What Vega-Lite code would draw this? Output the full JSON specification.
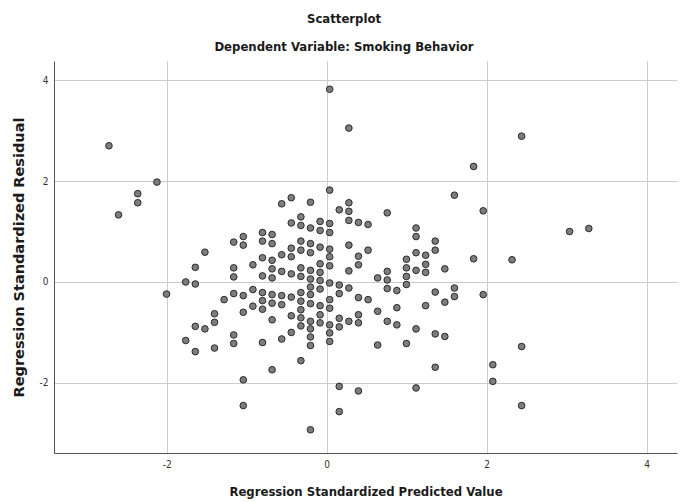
{
  "$schema": "https://vega.github.io/schema/vega-lite/v6.json",
  "autosize": {"type": "none"},
  "padding": {"left": 54, "top": 61, "right": 6, "bottom": 49},
  "width": 623,
  "height": 392,
  "background": "white",
  "title": {
    "text": "Scatterplot",
    "subtitle": "Dependent Variable: Smoking Behavior",
    "anchor": "middle",
    "frame": "bounds",
    "font": "Liberation Sans Narrow, DejaVu Sans Condensed, sans-serif",
    "fontSize": 13,
    "fontWeight": "bold",
    "color": "#1a1a1a",
    "subtitleFont": "Liberation Sans Narrow, DejaVu Sans Condensed, sans-serif",
    "subtitleFontSize": 13,
    "subtitleFontWeight": "bold",
    "subtitleColor": "#1a1a1a",
    "subtitlePadding": 15,
    "offset": 7
  },
  "data": {"values": [
    {"x": -2.723, "y": 2.70},
    {"x": -2.603, "y": 1.33},
    {"x": -2.363, "y": 1.75}, {"x": -2.363, "y": 1.57},
    {"x": -2.123, "y": 1.98},
    {"x": -2.003, "y": -0.24},
    {"x": -1.763, "y": 0.00}, {"x": -1.763, "y": -1.16},
    {"x": -1.643, "y": 0.29}, {"x": -1.643, "y": -0.04}, {"x": -1.643, "y": -0.88}, {"x": -1.643, "y": -1.38},
    {"x": -1.523, "y": 0.59}, {"x": -1.523, "y": -0.93},
    {"x": -1.403, "y": -0.63}, {"x": -1.403, "y": -0.80}, {"x": -1.403, "y": -1.31},
    {"x": -1.283, "y": -0.35},
    {"x": -1.163, "y": 0.79}, {"x": -1.163, "y": 0.28}, {"x": -1.163, "y": 0.10}, {"x": -1.163, "y": -0.23}, {"x": -1.163, "y": -1.05}, {"x": -1.163, "y": -1.22},
    {"x": -1.043, "y": 0.90}, {"x": -1.043, "y": 0.73}, {"x": -1.043, "y": -0.27}, {"x": -1.043, "y": -0.60}, {"x": -1.043, "y": -1.94}, {"x": -1.043, "y": -2.45},
    {"x": -0.923, "y": 0.34}, {"x": -0.923, "y": -0.15}, {"x": -0.923, "y": -0.48},
    {"x": -0.803, "y": 0.98}, {"x": -0.803, "y": 0.81}, {"x": -0.803, "y": 0.48}, {"x": -0.803, "y": 0.12}, {"x": -0.803, "y": -0.21}, {"x": -0.803, "y": -0.37}, {"x": -0.803, "y": -0.54}, {"x": -0.803, "y": -1.20},
    {"x": -0.683, "y": 0.94}, {"x": -0.683, "y": 0.76}, {"x": -0.683, "y": 0.43}, {"x": -0.683, "y": 0.26}, {"x": -0.683, "y": 0.08}, {"x": -0.683, "y": -0.25}, {"x": -0.683, "y": -0.42}, {"x": -0.683, "y": -0.75}, {"x": -0.683, "y": -1.74},
    {"x": -0.563, "y": 1.55}, {"x": -0.563, "y": 0.54}, {"x": -0.563, "y": 0.21}, {"x": -0.563, "y": -0.27}, {"x": -0.563, "y": -0.45}, {"x": -0.563, "y": -1.13},
    {"x": -0.443, "y": 1.67}, {"x": -0.443, "y": 1.17}, {"x": -0.443, "y": 0.67}, {"x": -0.443, "y": 0.50}, {"x": -0.443, "y": 0.16}, {"x": -0.443, "y": -0.30}, {"x": -0.443, "y": -0.67}, {"x": -0.443, "y": -1.00},
    {"x": -0.323, "y": 1.29}, {"x": -0.323, "y": 1.12}, {"x": -0.323, "y": 0.81}, {"x": -0.323, "y": 0.63}, {"x": -0.323, "y": 0.28}, {"x": -0.323, "y": 0.11}, {"x": -0.323, "y": -0.21}, {"x": -0.323, "y": -0.38}, {"x": -0.323, "y": -0.55}, {"x": -0.323, "y": -0.71}, {"x": -0.323, "y": -0.87}, {"x": -0.323, "y": -1.56},
    {"x": -0.203, "y": 1.58}, {"x": -0.203, "y": 1.07}, {"x": -0.203, "y": 0.76}, {"x": -0.203, "y": 0.58}, {"x": -0.203, "y": 0.23}, {"x": -0.203, "y": 0.06}, {"x": -0.203, "y": -0.10}, {"x": -0.203, "y": -0.25}, {"x": -0.203, "y": -0.43}, {"x": -0.203, "y": -0.78}, {"x": -0.203, "y": -0.93}, {"x": -0.203, "y": -1.09}, {"x": -0.203, "y": -1.26}, {"x": -0.203, "y": -2.93},
    {"x": -0.083, "y": 1.20}, {"x": -0.083, "y": 1.02}, {"x": -0.083, "y": 0.69}, {"x": -0.083, "y": 0.36}, {"x": -0.083, "y": 0.19}, {"x": -0.083, "y": 0.03}, {"x": -0.083, "y": -0.14}, {"x": -0.083, "y": -0.47}, {"x": -0.083, "y": -0.65}, {"x": -0.083, "y": -0.81},
    {"x": 0.037, "y": 3.82}, {"x": 0.037, "y": 1.82}, {"x": 0.037, "y": 1.16}, {"x": 0.037, "y": 0.98}, {"x": 0.037, "y": 0.65}, {"x": 0.037, "y": 0.50}, {"x": 0.037, "y": 0.32}, {"x": 0.037, "y": -0.02}, {"x": 0.037, "y": -0.35}, {"x": 0.037, "y": -0.52}, {"x": 0.037, "y": -0.85}, {"x": 0.037, "y": -1.01}, {"x": 0.037, "y": -1.18},
    {"x": 0.157, "y": 1.43}, {"x": 0.157, "y": -0.06}, {"x": 0.157, "y": -0.23}, {"x": 0.157, "y": -0.72}, {"x": 0.157, "y": -0.89}, {"x": 0.157, "y": -2.07}, {"x": 0.157, "y": -2.57},
    {"x": 0.277, "y": 3.05}, {"x": 0.277, "y": 1.57}, {"x": 0.277, "y": 1.40}, {"x": 0.277, "y": 1.22}, {"x": 0.277, "y": 0.73}, {"x": 0.277, "y": 0.22}, {"x": 0.277, "y": -0.12}, {"x": 0.277, "y": -0.78},
    {"x": 0.397, "y": 1.18}, {"x": 0.397, "y": 0.51}, {"x": 0.397, "y": 0.34}, {"x": 0.397, "y": -0.31}, {"x": 0.397, "y": -0.65}, {"x": 0.397, "y": -0.81}, {"x": 0.397, "y": -2.16},
    {"x": 0.517, "y": 1.14}, {"x": 0.517, "y": 0.63}, {"x": 0.517, "y": -0.35},
    {"x": 0.637, "y": 0.08}, {"x": 0.637, "y": -0.58}, {"x": 0.637, "y": -1.25},
    {"x": 0.757, "y": 1.37}, {"x": 0.757, "y": 0.21}, {"x": 0.757, "y": 0.04}, {"x": 0.757, "y": -0.13}, {"x": 0.757, "y": -0.78},
    {"x": 0.877, "y": -0.17}, {"x": 0.877, "y": -0.51}, {"x": 0.877, "y": -0.85},
    {"x": 0.997, "y": 0.45}, {"x": 0.997, "y": 0.28}, {"x": 0.997, "y": 0.11}, {"x": 0.997, "y": -0.05}, {"x": 0.997, "y": -1.22},
    {"x": 1.117, "y": 1.07}, {"x": 1.117, "y": 0.90}, {"x": 1.117, "y": 0.58}, {"x": 1.117, "y": 0.23}, {"x": 1.117, "y": -0.93}, {"x": 1.117, "y": -2.10},
    {"x": 1.237, "y": 0.53}, {"x": 1.237, "y": 0.35}, {"x": 1.237, "y": 0.19}, {"x": 1.237, "y": -0.47},
    {"x": 1.357, "y": 0.81}, {"x": 1.357, "y": 0.63}, {"x": 1.357, "y": -0.20}, {"x": 1.357, "y": -1.03}, {"x": 1.357, "y": -1.69},
    {"x": 1.477, "y": 0.26}, {"x": 1.477, "y": -0.40}, {"x": 1.477, "y": -1.08},
    {"x": 1.597, "y": 1.72}, {"x": 1.597, "y": -0.12}, {"x": 1.597, "y": -0.29},
    {"x": 1.837, "y": 2.29}, {"x": 1.837, "y": 0.46},
    {"x": 1.957, "y": 1.41}, {"x": 1.957, "y": -0.25},
    {"x": 2.077, "y": -1.64}, {"x": 2.077, "y": -1.97},
    {"x": 2.317, "y": 0.44},
    {"x": 2.437, "y": 2.89}, {"x": 2.437, "y": -1.28}, {"x": 2.437, "y": -2.45},
    {"x": 3.037, "y": 1.00},
    {"x": 3.277, "y": 1.06}
  ]},
  "mark": {
    "type": "point",
    "shape": "circle",
    "filled": true,
    "fill": "#7d7d7d",
    "stroke": "#2a2a2a",
    "strokeWidth": 1,
    "size": 44,
    "opacity": 1
  },
  "encoding": {
    "x": {
      "field": "x",
      "type": "quantitative",
      "scale": {"domain": [-3.41, 4.38], "nice": false, "zero": false},
      "axis": {
        "title": "Regression Standardized Predicted Value",
        "values": [-2, 0, 2, 4],
        "labelExpr": "datum.value < 0 ? '-' + abs(datum.value) : '' + datum.value",
        "labelPadding": 6,
        "titlePadding": 16,
        "titleFont": "Liberation Sans Narrow, DejaVu Sans Condensed, sans-serif",
        "titleFontSize": 13
      }
    },
    "y": {
      "field": "y",
      "type": "quantitative",
      "scale": {"domain": [-3.39, 4.38], "nice": false, "zero": false},
      "axis": {
        "title": "Regression Standardized Residual",
        "values": [-2, 0, 2, 4],
        "labelExpr": "datum.value < 0 ? '-' + abs(datum.value) : '' + datum.value",
        "labelPadding": 6,
        "titlePadding": 13,
        "titleFont": "DejaVu Sans",
        "titleFontSize": 14.5
      }
    }
  },
  "config": {
    "view": {"stroke": null},
    "axis": {
      "grid": true,
      "gridColor": "#cccccc",
      "gridWidth": 1,
      "domainColor": "#555555",
      "domainWidth": 1,
      "ticks": false,
      "labelFont": "Liberation Sans Narrow, DejaVu Sans Condensed, sans-serif",
      "labelFontSize": 10,
      "labelColor": "#333333",
      "titleFontWeight": "bold",
      "titleColor": "#1a1a1a"
    }
  }
}
